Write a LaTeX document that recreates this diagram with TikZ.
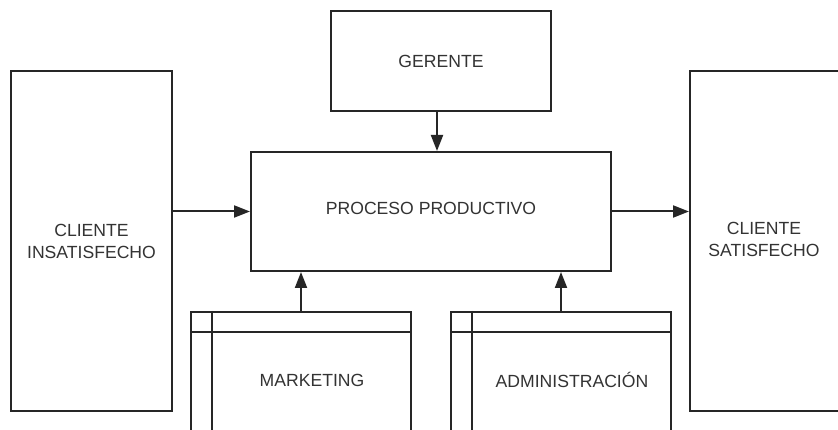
\documentclass[tikz,border=0pt]{standalone}
\usepackage{fontspec}
\setmainfont{Liberation Sans}
\usetikzlibrary{arrows.meta}
\definecolor{ln}{HTML}{262626}
\definecolor{tx}{HTML}{333333}
\begin{document}
\begin{tikzpicture}[x=1pt,y=-1pt,
  box/.style={draw=ln,line width=2pt,fill=white,inner sep=0pt,text=tx,align=center,
    font=\fontsize{17.6}{22}\selectfont},
  lbl/.style={text=tx,inner sep=0pt,font=\fontsize{17.6}{22}\selectfont},
  arr/.style={draw=ln,line width=2pt,-{Triangle[length=16pt,width=12pt]}},
  sep/.style={draw=ln,line width=2pt}]
\useasboundingbox[fill=white] (0,0) rectangle (838,430);
\clip (0,0) rectangle (838,430);
\node[box,minimum width=161pt,minimum height=340pt] (izq) at (91.5,241) {CLIENTE\\INSATISFECHO};
\node[box,minimum width=161pt,minimum height=340pt] (der) at (770.5,241) {};
\node[lbl,align=center] (derlbl) at (764,239) {CLIENTE\\SATISFECHO};
\node[box,minimum width=220pt,minimum height=100pt] (ger) at (441,61) {GERENTE};
\node[box,minimum width=360pt,minimum height=119pt] (proc) at (431,211.5) {};
\node[lbl] (proclbl) at (431,208) {PROCESO PRODUCTIVO};
\node[box,minimum width=220pt,minimum height=136pt] (mkt) at (301,380) {};
\node[box,minimum width=220pt,minimum height=136pt] (adm) at (561,380) {};
\draw[sep] ([yshift=-21pt]mkt.north west) -- ([yshift=-21pt]mkt.north east);
\draw[sep] ([xshift=22pt]mkt.north west) -- ([xshift=22pt]mkt.south west);
\draw[sep] ([yshift=-21pt]adm.north west) -- ([yshift=-21pt]adm.north east);
\draw[sep] ([xshift=22pt]adm.north west) -- ([xshift=22pt]adm.south west);
\node[lbl] (mktlbl) at (312,380) {MARKETING};
\node[lbl] (admlbl) at (572,380) {ADMINISTRACIÓN};
\draw[arr] (proc.west -| izq.east) -- (proc.west);
\draw[arr] (proc.east) -- (proc.east -| der.west);
\draw[arr] ([xshift=-4pt]ger.south) -- ([xshift=-4pt]ger.south |- proc.north);
\draw[arr] (mkt.north) -- (mkt.north |- proc.south);
\draw[arr] (adm.north) -- (adm.north |- proc.south);
\end{tikzpicture}
\end{document}
